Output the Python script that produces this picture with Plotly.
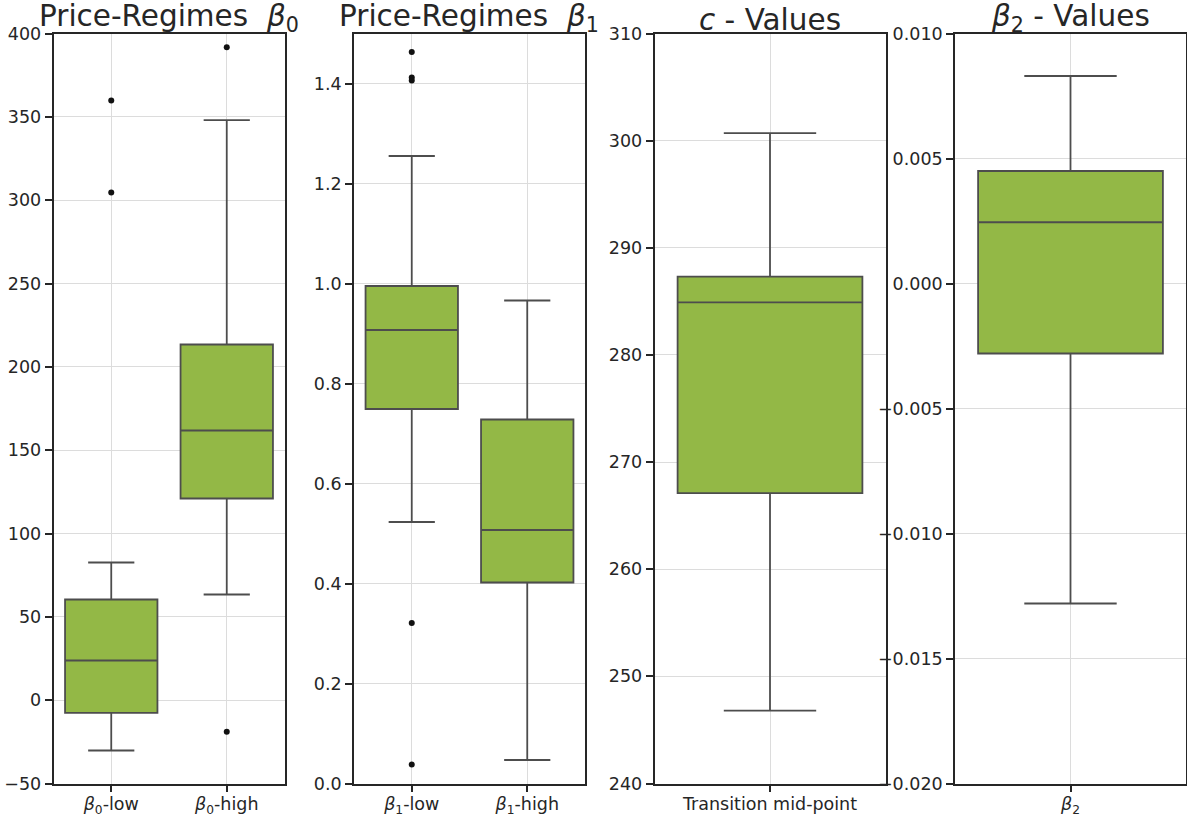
import plotly.graph_objects as go

# Box statistics per panel (q1, median, q3, whisker ends) plus individual outliers
b0_labels = ["<i>β</i><sub>0</sub>-low", "<i>β</i><sub>0</sub>-high"]
b0_q1 = [-7.6, 121.0]
b0_median = [23.8, 161.8]
b0_q3 = [60.4, 213.4]
b0_lower = [-30.2, 63.4]
b0_upper = [82.6, 348.0]
b0_out_x = [0, 0, 1, 1]
b0_out_y = [359.8, 304.6, 391.8, -19.0]

b1_labels = ["<i>β</i><sub>1</sub>-low", "<i>β</i><sub>1</sub>-high"]
b1_q1 = [0.749, 0.402]
b1_median = [0.907, 0.507]
b1_q3 = [0.995, 0.728]
b1_lower = [0.523, 0.047]
b1_upper = [1.255, 0.966]
b1_out_x = [0, 0, 0, 0, 0]
b1_out_y = [1.463, 1.412, 1.406, 0.321, 0.038]

c_labels = ["Transition mid-point"]
c_q1 = [267.1]
c_median = [284.9]
c_q3 = [287.3]
c_lower = [246.8]
c_upper = [300.7]

b2_labels = ["<i>β</i><sub>2</sub>"]
b2_q1 = [-0.0028]
b2_median = [0.00245]
b2_q3 = [0.0045]
b2_lower = [-0.0128]
b2_upper = [0.0083]

titles = [
    "Price-Regimes\u00a0\u00a0<i>β</i><sub>0</sub>",
    "Price-Regimes\u00a0\u00a0<i>β</i><sub>1</sub>",
    "<i>c</i> - Values",
    "<i>β</i><sub>2</sub> - Values",
]

y_ticks = [
    [-50, 0, 50, 100, 150, 200, 250, 300, 350, 400],
    [0.0, 0.2, 0.4, 0.6, 0.8, 1.0, 1.2, 1.4],
    [240, 250, 260, 270, 280, 290, 300, 310],
    [-0.020, -0.015, -0.010, -0.005, 0.000, 0.005, 0.010],
]
y_ranges = [[-50, 400], [0, 1.5], [240, 310], [-0.020, 0.010]]
y_formats = [",d", ".1f", ",d", ".3f"]

W, H = 1187, 818
FILL = "#93b846"
LINE = "#4d4d4d"
INK = "#262626"
GRID = "#dcdcdc"
FONT = "DejaVu Sans"

# panel pixel extents
px_left = [53.5, 354.0, 654.5, 955.0]
px_width = 231.0
px_top, px_bottom = 33.5, 783.5

panels = [
    (b0_labels, b0_q1, b0_median, b0_q3, b0_lower, b0_upper, b0_out_x, b0_out_y),
    (b1_labels, b1_q1, b1_median, b1_q3, b1_lower, b1_upper, b1_out_x, b1_out_y),
    (c_labels, c_q1, c_median, c_q3, c_lower, c_upper, [], []),
    (b2_labels, b2_q1, b2_median, b2_q3, b2_lower, b2_upper, [], []),
]

fig = go.Figure()
layout = dict(
    width=W, height=H,
    margin=dict(l=0, r=0, t=0, b=0),
    paper_bgcolor="white", plot_bgcolor="white",
    showlegend=False,
    font=dict(family=FONT, size=17.5, color=INK),
    annotations=[],
)

ydom = [(H - px_bottom) / H, (H - px_top) / H]

for i, (labels, q1, med, q3, lo, hi, ox, oy) in enumerate(panels):
    n = i + 1
    xa = "x" if n == 1 else f"x{n}"
    ya = "y" if n == 1 else f"y{n}"
    pos = list(range(len(labels)))
    fig.add_trace(go.Box(
        x=pos, q1=q1, median=med, q3=q3, lowerfence=lo, upperfence=hi,
        width=0.8, whiskerwidth=0.5, boxpoints=False,
        fillcolor=FILL, line=dict(color=LINE, width=1.8),
        xaxis=xa, yaxis=ya,
    ))
    if ox:
        fig.add_trace(go.Scatter(
            x=ox, y=oy, mode="markers",
            marker=dict(color="#111111", size=6),
            xaxis=xa, yaxis=ya,
        ))
    x0 = px_left[i] / W
    x1 = (px_left[i] + px_width) / W
    axis_common = dict(
        showline=True, mirror=True, linecolor=INK, linewidth=1.6,
        ticks="outside", ticklen=7, tickwidth=1.5, tickcolor=INK,
        showgrid=True, gridcolor=GRID, gridwidth=1,
        zeroline=False, automargin=False,
        tickfont=dict(family=FONT, size=17.5, color=INK),
    )
    layout["xaxis" if n == 1 else f"xaxis{n}"] = dict(
        axis_common, domain=[x0, x1], anchor=ya,
        range=[-0.5, len(labels) - 0.5],
        tickvals=pos, ticktext=labels, ticklabelstandoff=-3,
    )
    layout["yaxis" if n == 1 else f"yaxis{n}"] = dict(
        axis_common, domain=ydom, anchor=xa,
        range=y_ranges[i], tickvals=y_ticks[i], tickformat=y_formats[i],
    )
    layout["annotations"].append(dict(
        text=titles[i], xref="paper", yref="paper",
        x=(x0 + x1) / 2, y=ydom[1], xanchor="center", yanchor="bottom",
        yshift=-6, showarrow=False,
        font=dict(family=FONT, size=29.5, color=INK),
    ))

fig.update_layout(**layout)
fig.write_html("out.html")
